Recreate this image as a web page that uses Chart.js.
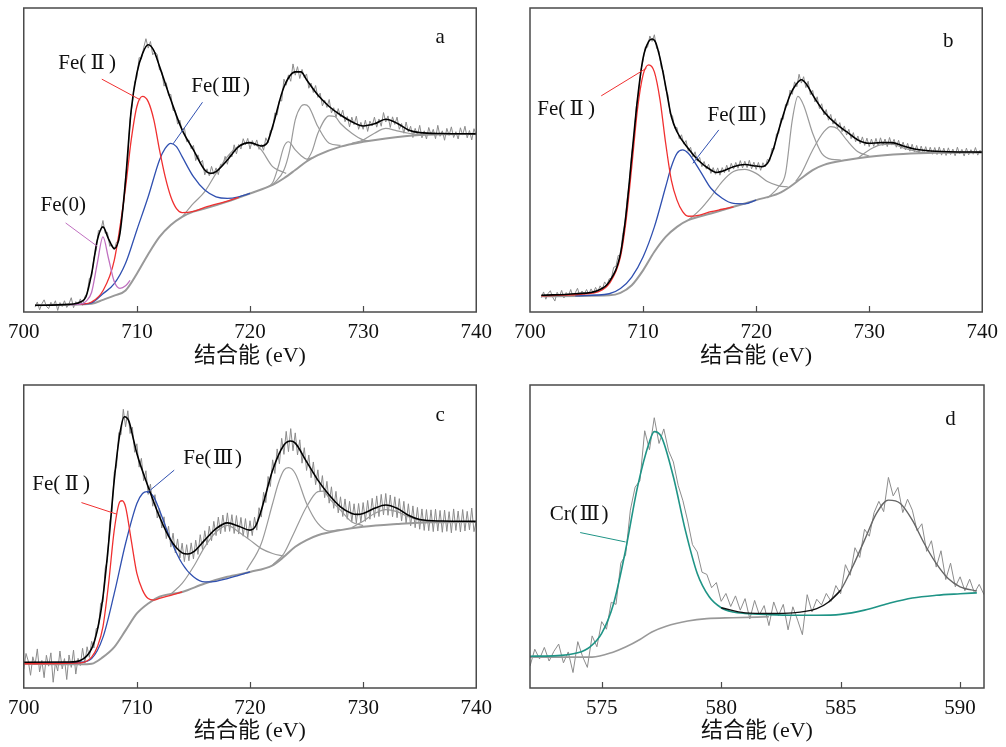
<!DOCTYPE html>
<html>
<head>
<meta charset="utf-8" />
<title>Fe 2p / Cr 2p XPS</title>
<style>
  body { margin: 0; background: #fff; }
  canvas { position: absolute; }
</style>
<script src="https://cdn.jsdelivr.net/npm/chart.js"></script>
</head>
<body>
<canvas id="pa" width="500" height="370" style="left:0;top:0"></canvas>
<canvas id="pb" width="506" height="370" style="left:500px;top:0"></canvas>
<canvas id="pc" width="500" height="377" style="left:0;top:370px"></canvas>
<canvas id="pd" width="506" height="377" style="left:500px;top:370px"></canvas>
<script>
// ---- data (binding energy eV, intensity in % of frame height) ----
const feTicks = [700, 710, 720, 730, 740];
const crTicks = [575, 580, 585, 590];

// panel a
const aRawStart = 701, aRawStep = 0.2;
const aRaw = [1.6,3.3,0.7,2.7,4.0,1.9,1.1,3.2,2.1,3.7,
  0.5,3.1,1.8,3.7,1.5,2.7,4.7,1.4,3.4,2.4,
  4.3,2.2,5.1,6.1,11.1,11.6,17.8,20.2,26.8,26.6,
  30.1,25.9,26.2,21.6,22.2,20.4,23.0,23.2,29.9,34.3,
  44.3,50.7,63.5,68.4,75.7,77.2,83.7,83.2,86.9,89.9,
  86.8,89.0,84.6,85.5,84.7,79.6,79.1,74.3,75.4,71.2,
  71.6,66.3,66.2,61.8,63.1,59.4,60.6,56.0,56.6,53.7,
  54.8,49.8,51.7,48.9,49.9,45.1,47.1,44.8,47.9,45.3,
  47.4,45.2,48.6,48.2,51.2,48.6,52.0,51.0,55.0,52.0,
  55.1,53.6,57.0,55.0,57.1,53.6,56.4,54.6,56.6,53.5,
  55.1,53.2,57.3,55.6,59.7,60.0,65.5,64.8,69.6,69.4,
  76.6,74.6,78.0,75.9,81.6,77.9,80.7,76.8,79.8,77.1,
  78.3,73.6,75.3,72.2,74.5,70.6,72.0,67.8,69.7,67.3,
  69.9,65.5,67.2,64.0,66.9,64.2,66.4,62.6,64.3,60.9,
  64.1,61.6,64.4,60.1,62.4,60.1,63.1,59.4,62.8,61.2,
  64.1,60.8,63.5,61.1,65.6,62.5,64.5,60.7,64.2,61.7,
  64.1,60.1,62.0,58.8,62.5,59.2,61.1,57.4,60.4,58.2,
  61.4,57.3,59.6,56.9,60.7,58.3,60.1,57.0,61.4,57.8,
  59.6,56.5,60.4,58.1,60.9,57.4,59.3,56.9,60.6,58.2,
  61.1,57.3,59.7,56.6,60.3,58.0];
const aBg = [[701,2.2],[704,2.4],[706,2.7],[707,4],[708,5.4],[709,7.1],[710,12.6],[711,19],[712,24.7],[713,28.6],[714,31.3],[715,33],[716,34],[718,36.3],[720,39],[722,41.8],[723,44],[724,46.7],[725,49.5],[726,51.6],[728,54.4],[730,56],[732,57.1],[735,58.2],[740,58.6]];
const aEnv = [[701,2.2],[704,2.5],[705,3.3],[705.5,5],[706,12.6],[706.5,23.6],[707,28],[707.5,24],[708,20.9],[708.5,25.8],[709,43.4],[709.5,66.5],[710,78.6],[710.5,85],[711,87.9],[711.5,86],[712,80.8],[713,69.8],[714,59.9],[715,53.3],[716,46.7],[716.5,45.6],[717,46.2],[718,50],[719,54.4],[720,55.7],[721,54.6],[721.5,55.5],[722,61],[723,74],[724,79],[724.5,79],[725,76.4],[726,71.4],[727,67.6],[728,64.8],[729,62.6],[730,61.2],[731,61.9],[732,63.4],[733,62.1],[734,59.9],[735,59],[737,58.7],[740,58.6]];
const aFe0 = [[704,2.4],[705,2.6],[705.5,3.5],[706,6.5],[706.5,16],[707,24.7],[707.5,17.5],[708,10],[708.5,7.8],[709,8.6],[709.4,10.4]];
const aFe2 = [[705,2.5],[706,3.3],[707,7],[708,17],[709,41],[709.5,56.6],[710,67.6],[710.5,70.9],[711,69.2],[711.5,63.2],[712,53.3],[712.5,44.5],[713,37.9],[713.5,34],[714,32.7],[715,33.1],[716,34.4],[718,36.5],[719,37.7]];
const aFe3 = [[705,2.5],[706,3],[707,6],[708,9.3],[709,16],[710,27],[711,37.9],[712,50],[712.5,53.8],[713,55.5],[713.5,54.4],[714,51.1],[715,44.5],[716,40.1],[717,37.9],[718,37.4],[719,37.9],[720,39]];
const aSat = [
  [[714,31.3],[715,35.7],[716,39.6],[717,45.6],[718,51.1],[719,54.6],[719.8,55.6],[720.5,55],[721,53.3],[722,47.8],[722.6,46.5],[723.2,45.6]],
  [[721.5,41],[722,42.5],[722.5,47.8],[723,54.4],[723.4,56],[724,53.3],[724.5,51.5],[725,50.3],[725.6,50.8]],
  [[722,41.8],[723,46.7],[723.5,53],[724,63.2],[724.5,67.6],[724.8,68.2],[725.2,67.5],[726,61],[727,55.5],[728,54.8]],
  [[725,49.5],[725.5,53],[726,58.8],[727,64.5],[727.5,64.3],[728,62],[729,58.8],[730,56.6],[730.5,56.3]],
  [[729,55.5],[730,56.6],[731,58.8],[732,60.4],[733,59.6],[734,58.8],[735,58.3]]
];

// panel b
const bRawStart = 701, bRawStep = 0.2;
const bRaw = [4.7,6.6,4.2,6.1,7.0,4.9,3.6,6.5,5.2,7.1,
  4.6,6.4,5.3,7.4,5.1,6.3,7.8,5.4,6.9,5.8,
  7.4,5.9,7.6,6.2,8.1,6.7,8.6,7.5,9.9,8.8,
  10.9,11.1,14.7,15.0,18.6,18.5,25.6,29.1,37.3,42.8,
  52.2,57.4,67.5,71.6,79.4,82.6,87.2,87.1,90.8,89.0,
  91.2,86.7,85.9,80.5,79.3,73.2,71.5,65.1,64.6,60.4,
  60.7,57.0,58.3,55.2,56.4,52.9,54.2,51.0,52.7,49.6,
  50.9,47.8,49.5,47.0,48.6,45.6,47.5,45.3,47.4,45.0,
  47.5,45.8,48.3,46.1,48.9,47.0,49.2,47.3,49.8,47.4,
  49.6,47.5,49.9,47.1,49.3,46.9,49.2,46.6,49.1,47.7,
  50.2,49.6,53.8,53.5,58.6,58.8,63.7,63.4,68.3,68.0,
  73.0,71.6,75.7,74.1,78.2,75.3,77.4,73.8,75.9,71.5,
  72.9,69.1,70.8,66.9,68.5,64.8,66.6,63.1,65.0,61.8,
  63.6,60.4,62.3,59.3,61.2,58.2,60.1,57.0,59.0,56.0,
  57.9,55.3,57.6,54.8,57.2,54.4,56.9,54.5,57.1,54.6,
  57.3,54.8,56.9,54.4,57.4,54.9,56.8,54.2,56.5,53.7,
  55.9,53.3,55.5,52.9,55.2,52.7,54.8,52.3,54.6,52.1,
  54.4,52.0,54.2,51.9,54.1,51.8,54.3,51.6,53.9,51.5,
  54.0,51.8,53.6,51.4,54.2,52.0,53.5,51.3,53.9,51.7,
  53.4,51.9,54.1,51.6,53.2,52.4];
const bBg = [[701,5.2],[707,5.5],[708,6.3],[709,8.8],[710,13.7],[711,19.8],[712,24.7],[713,28],[714,30.2],[716,32.4],[718,34.6],[720,36.8],[722,39],[723,41.2],[724,44],[725,46.7],[726,48.4],[728,50],[730,51.1],[733,52],[736,52.4],[740,52.5]];
const bEnv = [[701,5.5],[704,6],[706,7.1],[707,9.9],[708,19.2],[708.5,32.4],[709,51.1],[709.5,69.8],[710,83.5],[710.5,89],[710.8,89.8],[711.1,88.8],[711.5,83.5],[712,74.2],[712.5,64.3],[713,59.3],[714,53.8],[715,49.5],[716,46.7],[716.5,45.9],[717,46.3],[718,47.8],[719,48.5],[720,48],[720.5,47.8],[721,48.9],[721.5,53.3],[722,59.9],[723,71.4],[723.5,74.7],[724,76.4],[724.5,74.7],[725,71.4],[726,65.9],[727,62.1],[728,59.3],[729,56.6],[730,55.5],[731,55.7],[732,55.7],[733,54.6],[734,53.6],[735,53.1],[737,52.7],[740,52.6]];
const bFe2 = [[701,5.3],[705,6],[706,6.6],[707,9.3],[708,18.1],[708.5,30.2],[709,47.8],[709.5,66.5],[710,78],[710.5,81.3],[711,79],[711.5,69.8],[712,55.5],[712.5,43.4],[713,36.8],[713.5,33],[714,31.5],[715,31.9],[716,33],[717,33.8],[718,34.6]];
const bFe3 = [[704,5.3],[707,6],[708,7.7],[709,11.5],[710,18.1],[711,28],[712,41.2],[712.5,47.8],[713,52.2],[713.5,53.3],[714,52.2],[715,46.7],[716,40.7],[717,37.4],[718,35.7],[719,35.6],[720,36.8]];
const bSat = [
  [[714,30.2],[715,33.5],[716,37.9],[717,42.9],[718,46.2],[719,46.9],[720,45.6],[721,42.9],[722,41.5],[722.8,41.2]],
  [[721,37.5],[722,41.2],[722.6,45.6],[723.2,63.2],[723.7,70.9],[724.2,68],[725,58.8],[725.8,52.2],[726.7,50.2],[727.5,50]],
  [[723.5,43],[724,45.6],[725,53.3],[726,59.3],[726.6,61],[727.2,60.3],[728,56.6],[729,52.7],[730,51.3]],
  [[729,50.6],[730,53.3],[731,55],[732,55.2],[733,54],[734,53],[735,52.3]]
];

// panel c
const cRawStart = 700, cRawStep = 0.2;
const cRaw = [6.1,11.4,8.9,4.2,10.3,7.6,12.9,5.3,9.1,3.4,
  10.8,7.2,11.6,1.9,8.4,5.6,12.2,6.3,9.7,2.8,
  10.9,6.8,12.5,4.6,9.8,7.4,13.1,8.2,13.6,10.1,
  15.4,13.2,19.6,19.8,28.0,28.3,39.5,42.1,54.8,58.4,
  71.2,73.1,84.3,83.6,92.0,86.2,91.5,84.0,86.1,77.8,
  80.6,72.9,75.8,68.4,71.7,63.9,67.3,60.0,63.8,56.1,
  59.2,52.8,56.5,49.3,53.4,46.5,51.1,44.6,49.2,42.9,
  47.8,41.7,47.3,42.0,47.9,42.6,48.8,44.1,50.6,45.7,
  51.9,47.2,53.4,48.6,55.0,50.3,56.4,50.9,57.1,51.6,
  57.8,51.7,57.2,51.0,56.9,50.8,56.3,50.1,55.9,49.6,
  55.2,50.3,56.4,52.1,59.5,56.4,64.6,61.2,69.8,66.5,
  75.3,70.8,78.9,74.0,82.4,77.1,84.7,78.0,85.6,78.3,
  84.2,76.9,81.9,74.2,79.3,71.8,76.9,69.4,74.6,67.1,
  72.0,64.9,70.1,62.8,68.2,61.0,66.4,59.3,64.9,57.8,
  63.1,56.6,62.4,55.7,61.6,54.9,60.8,54.4,60.9,54.6,
  61.2,55.0,61.9,55.7,62.6,56.3,63.4,56.6,63.9,57.1,
  64.2,57.0,63.7,56.5,63.1,56.2,62.5,55.1,61.6,54.3,
  60.8,53.5,60.1,52.9,59.6,52.4,59.1,52.0,58.9,51.9,
  58.8,51.6,59.0,51.8,58.6,51.4,58.7,51.7,58.2,51.2,
  59.1,52.0,58.4,51.5,58.9,51.8,58.3,52.2,59.4,51.6,
  55.0];
const cBg = [[700,8],[705,7.8],[706,8],[707,10.2],[708,13.5],[709,19],[710,24.6],[711,27.9],[712,30.1],[714,31.7],[716,34.5],[718,36.7],[720,38.3],[722,40.5],[723,43.3],[724,46.6],[725,48.8],[726,50.4],[728,52.1],[730,53.2],[733,54.1],[736,54.7],[740,54.8]];
const cEnv = [[700,8.5],[704,8.6],[705,9.1],[706,13],[706.5,19],[707,30],[707.5,47.7],[708,68.6],[708.5,84],[708.9,89.5],[709.3,88],[709.7,82],[710,77.4],[711,66.4],[712,56.5],[713,48.8],[714,44.6],[714.5,44.2],[715,44.9],[716,48.8],[717,52.6],[718,54.5],[719,53.4],[720,52.1],[720.5,53.5],[721,58.7],[722,71.9],[723,80.2],[723.6,81.5],[724,80.8],[725,74.7],[726,68.6],[727,63.7],[728,59.8],[729,57.6],[729.5,57.3],[730,57.6],[731,59.3],[732,60.4],[733,59.3],[734,57],[735,55.6],[737,55.1],[740,55]];
const cFe2 = [[700,8],[705,8.3],[706,10.2],[706.5,13.5],[707,20.2],[707.5,34.5],[708,52.1],[708.5,61.5],[708.7,61.8],[709,59.8],[709.5,48.8],[710,37.8],[710.5,32.3],[711,29.5],[711.5,29],[712,29.6],[713,30.6],[714,31.7]];
const cFe3 = [[700,8.2],[705,8.5],[706,9.7],[707,16.7],[708,31.2],[709,47.7],[710,60.9],[710.5,64.2],[710.9,64.8],[711.5,63],[712,58.7],[713,48.8],[714,41.1],[715,36.7],[716,35],[717,35.2],[718,36.1],[719,37.2],[720,38.3]];
const cSat = [
  [[713,31],[714,34.5],[715,40],[716,46.6],[717,51.5],[718,53.7],[719,51.5],[720,48.8],[721,46],[722,44.4],[723,43.5]],
  [[719.7,38.9],[721,47.7],[722,60.9],[722.5,67.5],[723,71.9],[723.4,72.7],[724,70.8],[725,60.9],[726,54.3],[727,51.8],[728,52.3]],
  [[722,40.6],[723,44.4],[724,52.1],[725,59.8],[726,64.8],[726.5,65],[727,62.6],[728,58.7],[729,54.8],[730,53.6]],
  [[729,53],[730,55],[731,57.6],[732,58.9],[733,58.2],[734,56.5],[735,55.3],[736,54.8]]
];

// panel d (Cr 2p)
const dRawStart = 572, dRawStep = 0.2;
const dRaw = [7.2,12.8,9.6,13.4,8.9,12.1,14.5,8.3,11.9,5.1,
  15.3,10.4,6.8,17.2,13.6,21.9,19.4,28.3,27.6,41.2,
  43.9,58.7,66.3,68.4,84.9,78.6,89.2,80.7,85.5,78.3,
  74.6,66.9,61.8,55.1,47.3,44.9,38.2,37.5,33.1,34.8,
  28.6,31.2,26.9,30.4,25.7,29.5,22.8,28.9,24.1,27.2,
  20.6,28.4,23.9,27.6,19.2,26.8,22.4,17.6,30.8,25.1,
  29.3,27.4,31.2,28.6,33.8,31.1,40.7,37.2,46.3,43.1,
  52.4,50.1,57.9,61.6,58.2,69.5,63.4,66.2,57.9,62.3,
  58.7,51.9,54.2,45.1,48.6,39.9,45.3,35.8,41.2,33.4,
  36.7,32.1,35.9,31.4,34.2,30.8];
const dBg = [[572,10.2],[574.6,10.2],[575.5,11.9],[576,13.5],[576.6,16],[577.1,18.5],[577.7,20.4],[578.6,22.1],[579.4,22.9],[580.5,23.2],[582,23.5]];
const dCr3 = [[572,10.5],[573,10.6],[574,11.6],[574.5,13.5],[575,18],[575.5,27.9],[576,45.5],[576.5,66.4],[577,81.3],[577.2,84.6],[577.5,82.9],[578,69.7],[578.5,52.1],[579,37.8],[579.5,30.1],[580,26.5],[580.5,25.1],[581,24.6],[582,24.2],[583,24],[584,24],[585,24.3],[586,25.7],[587,27.9],[588,29.7],[589,30.6],[590,31.1],[590.7,31.4]];
const dEnvLow = [[580,26.5],[581,24.8],[582,24.6],[583,24.8],[584,26.2],[584.5,28.4],[585,32.3]];
const dEnvPeak = [[584.5,28.4],[585,32.3],[585.5,40],[586,48.8],[586.5,57.6],[587,62],[587.5,60.9],[588,55.4],[588.5,47.7],[589,41.1],[589.5,36.1],[590,33.4],[590.7,32]];

// labels and leader lines (data units)
const aNotes = [['a',736.8,90.4],['Fe(\u2009Ⅱ\u2009)',705.6,81.9],['Fe(\u200aⅢ\u200a)',717.4,74.2],['Fe(0)',703.5,35.2]];
const aLeaders = [['#f03030',706.9,76.6,710.3,69.8],['#3050b0',715.8,69,713.2,55.3],['#c070c0',703.7,29.3,706.5,21.6]];
const bNotes = [['b',737,89],['Fe(\u2009Ⅱ\u2009)',703.2,66.5],['Fe(\u200aⅢ\u200a)',718.3,64.8]];
const bLeaders = [['#f03030',706.3,71.1,710.3,80.2],['#3050b0',716.7,59.9,714.4,48.9]];
const cNotes = [['c',736.8,90.1],['Fe(\u2009Ⅱ\u2009)',703.3,67.3],['Fe(\u200aⅢ\u200a)',716.7,75.8]];
const cLeaders = [['#f03030',705.1,61.2,708.2,57.4],['#3050b0',713.3,71.9,710.9,64.4]];
const dNotes = [['d',589.6,88.7],['Cr(\u200aⅢ\u200a)',574.06,57.4]];
const dLeaders = [['#1f9486',574.1,51.3,576.0,48.2]];

// ---- drawing ----
const SERIF = '"Liberation Serif", "DejaVu Serif", "Noto Sans CJK SC", serif';
const RED = '#f03030', BLUE = '#3050b0', PINK = '#c070c0', TEAL = '#1f9486';

function line(pairs, color, width) {
  return { data: pairs.map(p => ({ x: p[0], y: p[1] })), borderColor: color, borderWidth: width,
    pointRadius: 0, cubicInterpolationMode: 'monotone', fill: false };
}
function raw(start, step, vals) {
  return { data: vals.map((v, i) => ({ x: +(start + i * step).toFixed(2), y: v })),
    borderColor: '#8c8c8c', borderWidth: 1, pointRadius: 0, tension: 0, fill: false };
}

const notesPlugin = {
  id: 'notes',
  afterDraw(chart, args, opts) {
    const { ctx, chartArea: ca, scales: { x, y } } = chart;
    ctx.save();
    ctx.lineWidth = 1;
    (opts.leaders || []).forEach(l => {
      ctx.strokeStyle = l[0];
      ctx.beginPath();
      ctx.moveTo(x.getPixelForValue(l[1]), y.getPixelForValue(l[2]));
      ctx.lineTo(x.getPixelForValue(l[3]), y.getPixelForValue(l[4]));
      ctx.stroke();
    });
    ctx.fillStyle = '#111';
    ctx.font = '21px ' + SERIF;
    ctx.textAlign = 'center';
    ctx.textBaseline = 'middle';
    (opts.notes || []).forEach(n => {
      ctx.fillText(n[0], x.getPixelForValue(n[1]), y.getPixelForValue(n[2]));
    });
    // frame + inward ticks
    ctx.strokeStyle = '#4a4a4a';
    ctx.lineWidth = 1.5;
    ctx.strokeRect(ca.left, ca.top, ca.right - ca.left, ca.bottom - ca.top);
    ctx.lineWidth = 1.2;
    x.ticks.forEach(t => {
      if (t.value <= x.min || t.value >= x.max) return;
      const px = Math.round(x.getPixelForValue(t.value)) + 0.5;
      ctx.beginPath();
      ctx.moveTo(px, ca.bottom);
      ctx.lineTo(px, ca.bottom - 6);
      ctx.stroke();
    });
    ctx.restore();
  }
};

function makePanel(id, datasets, xmin, xmax, tickVals, pad, axisH, titlePad, notes, leaders) {
  new Chart(document.getElementById(id), {
    type: 'line',
    data: { datasets: datasets },
    options: {
      responsive: false,
      animation: false,
      devicePixelRatio: 1,
      layout: { padding: pad },
      plugins: { legend: { display: false }, tooltip: { enabled: false }, notes: { notes: notes, leaders: leaders } },
      scales: {
        x: {
          type: 'linear', min: xmin, max: xmax,
          afterBuildTicks: s => { s.ticks = tickVals.map(v => ({ value: v })); },
          afterFit: s => { s.height = axisH; },
          grid: { display: false, drawTicks: false },
          border: { display: false },
          ticks: { font: { family: SERIF, size: 21 }, color: '#111', padding: 8, maxRotation: 0, autoSkip: false },
          title: { display: true, text: '结合能 (eV)', color: '#111',
            font: { family: SERIF, size: 22 }, padding: { top: 0, bottom: titlePad } }
        },
        y: { display: false, min: 0, max: 100 }
      }
    },
    plugins: [notesPlugin]
  });
}

function feSets(env, fe2, fe3, sats, bg, rawData, extra) {
  const s = [line(env, '#000', 1.6)];
  if (extra) s.push(extra);
  s.push(line(fe2, RED, 1.3), line(fe3, BLUE, 1.3));
  sats.forEach(p => s.push(line(p, '#9a9a9a', 1.2)));
  s.push(line(bg, '#999', 2), rawData);
  return s;
}

makePanel('pa', feSets(aEnv, aFe2, aFe3, aSat, aBg, raw(aRawStart, aRawStep, aRaw), line(aFe0, PINK, 1.3)),
  700, 740, feTicks, { left: 23, right: 22, top: 8, bottom: 0 }, 58, 1, aNotes, aLeaders);
makePanel('pb', feSets(bEnv, bFe2, bFe3, bSat, bBg, raw(bRawStart, bRawStep, bRaw)),
  700, 740, feTicks, { left: 30, right: 22, top: 8, bottom: 0 }, 58, 1, bNotes, bLeaders);
makePanel('pc', feSets(cEnv, cFe2, cFe3, cSat, cBg, raw(cRawStart, cRawStep, cRaw)),
  700, 740, feTicks, { left: 23, right: 22, top: 15, bottom: 0 }, 59, 3, cNotes, cLeaders);
makePanel('pd', [line(dEnvLow, '#111', 1.4), line(dEnvPeak, '#666', 1.4), line(dCr3, TEAL, 1.6),
    line(dBg, '#999', 1.6), raw(dRawStart, dRawStep, dRaw)],
  572, 591, crTicks, { left: 30, right: 22, top: 15, bottom: 0 }, 59, 3, dNotes, dLeaders);
</script>
</body>
</html>
